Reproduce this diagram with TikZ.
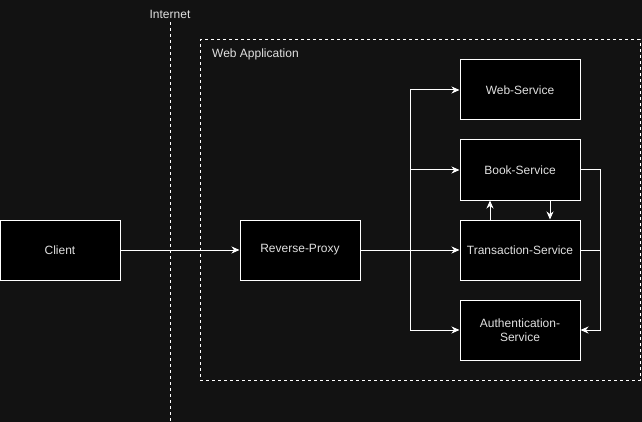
\documentclass[tikz,border=0pt]{standalone}
\usepackage{fontspec}
\setmainfont{Liberation Sans}
\usetikzlibrary{arrows.meta}
\definecolor{bg}{HTML}{121212}
\definecolor{txt}{HTML}{E0E0E0}
\begin{document}
\begin{tikzpicture}[x=1pt,y=-1pt,
  box/.style={draw=white, fill=black, minimum width=120pt, minimum height=60pt, text=txt,
    font=\fontsize{12}{14}\selectfont, align=center, line width=1pt, inner sep=0pt},
  lbl/.style={text=txt, font=\fontsize{12}{14}\selectfont, inner sep=0pt},
  conn/.style={draw=white, line width=1pt, -{Stealth[length=8pt,width=7pt,inset=2.5pt]}},
  wire/.style={draw=white, line width=1pt},
  dashline/.style={draw=white, line width=1pt, dash pattern=on 3pt off 3pt}
]
\fill[bg] (0,0) rectangle (642,422);
\useasboundingbox (0,0) rectangle (642,422);

% Internet boundary
\coordinate (itop) at (170,22);
\coordinate (ibot) at (170,422);
\draw[dashline] (itop) -- (ibot);
\node[lbl] (internet) at (170,14) {Internet};

% Web application boundary
\node[dashline, minimum width=440pt, minimum height=340pt, inner sep=0pt] (webapp) at (420,210) {};
\node[lbl, anchor=west] (webapplbl) at (212,54) {Web Application};

% Nodes
\node[box] (client) at (60,250) {Client};
\node[box] (proxy) at (300,250) {Reverse-Proxy};
\node[box] (web) at (520,90) {Web-Service};
\node[box] (book) at (520,170) {Book-Service};
\node[box] (trans) at (520,250) {Transaction-Service};
\node[box] (auth) at (520,330) {Authentication-\\Service};

% Connectors
\draw[conn] (client) -- (proxy);
\coordinate (br) at (410,250);
\draw[wire] (proxy.east) -- (br);
\draw[conn] (br) |- (web.west);
\draw[conn] (br) |- (book.west);
\draw[conn] (br) -- (trans.west);
\draw[conn] (br) |- (auth.west);

\coordinate (rj) at (600,250);
\draw[conn] (book.east) -- ++(20,0) |- (auth.east);
\draw[wire] (trans.east) -- (rj);

\draw[conn] ([xshift=-30pt]trans.north) -- ([xshift=-30pt]book.south);
\draw[conn] ([xshift=30pt]book.south) -- ([xshift=30pt]trans.north);
\end{tikzpicture}
\end{document}
